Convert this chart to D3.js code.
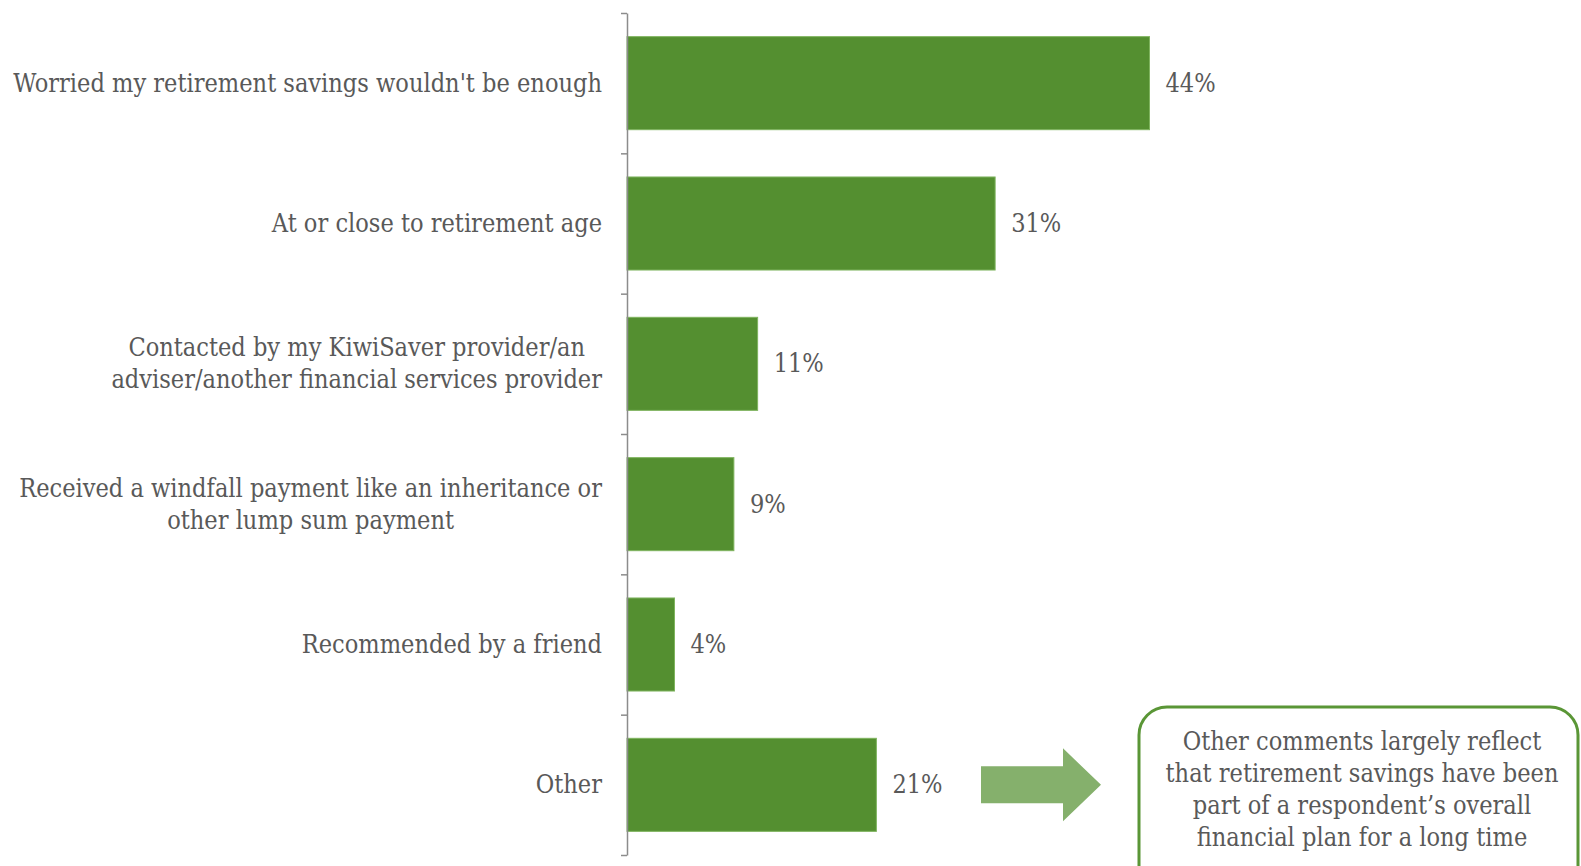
<!DOCTYPE html>
<html>
<head>
<meta charset="utf-8">
<script src="https://cdn.jsdelivr.net/npm/d3@7"></script>
<style>
  html, body { margin: 0; padding: 0; background: #ffffff; }
  svg { display: block; }
  text { font-family: "DejaVu Serif Condensed", "DejaVu Serif", "Liberation Serif", serif; fill: #595959; }
</style>
</head>
<body>
<svg id="chart" width="1581" height="866"></svg>
<script>
const categories = [
  "Worried my retirement savings wouldn't be enough",
  "At or close to retirement age",
  "Contacted by my KiwiSaver provider/an adviser/another financial services provider",
  "Received a windfall payment like an inheritance or other lump sum payment",
  "Recommended by a friend",
  "Other"
];
const categoryLines = [
  ["Worried my retirement savings wouldn't be enough"],
  ["At or close to retirement age"],
  ["Contacted by my KiwiSaver provider/an", "adviser/another financial services provider"],
  ["Received a windfall payment like an inheritance or", "other lump sum payment"],
  ["Recommended by a friend"],
  ["Other"]
];
const values = [44, 31, 11, 9, 4, 21];
const valueLabels = ["44%", "31%", "11%", "9%", "4%", "21%"];
const noteLines = [
  "Other comments largely reflect",
  "that retirement savings have been",
  "part of a respondent\u2019s overall",
  "financial plan for a long time"
];

const svg = d3.select("#chart");
const LINE = 32;

// size the font so the longest label spans the same width as in the reference
const probe = svg.append("text").attr("font-size", 24).text(categoryLines[0][0]);
const probeW = probe.node().getComputedTextLength();
probe.remove();
const FONT = Math.max(18, Math.min(26, 24 * 589 / probeW));

const x = d3.scaleLinear().domain([0, 44]).range([627, 1149.5]);
const y = d3.scaleBand().domain(categories).range([13, 855])
  .paddingInner(0.337).paddingOuter(0.1685);

// bars
svg.append("g").selectAll("rect").data(values).join("rect")
  .attr("x", x(0))
  .attr("y", (d, i) => y(categories[i]))
  .attr("width", d => x(d) - x(0))
  .attr("height", y.bandwidth())
  .attr("fill", "#548f30")
  .attr("stroke", "#7fb45e")
  .attr("stroke-width", 1);

// axis with ticks between categories
const boundary = d3.scaleLinear().domain([0, categories.length]).range(y.range());
const axis = svg.append("g").attr("transform", `translate(${x(0)},0)`)
  .call(d3.axisLeft(boundary).tickValues(d3.range(categories.length + 1))
    .tickSize(6).tickSizeOuter(0).tickFormat(""));
axis.selectAll("path, line").attr("stroke", "#8c8c8c").attr("stroke-width", 1.5);

// category labels (multi-line blocks centred, block right aligned)
const labelRight = 602;
const lg = svg.append("g");
categoryLines.forEach((lines, i) => {
  const cy = y(categories[i]) + y.bandwidth() / 2;
  const g = lg.append("g");
  const texts = lines.map((t, j) => g.append("text")
    .attr("font-size", FONT)
    .attr("dominant-baseline", "central")
    .attr("y", cy + (j - (lines.length - 1) / 2) * LINE)
    .text(t));
  const widths = texts.map(t => t.node().getComputedTextLength());
  const maxW = d3.max(widths);
  const cx = labelRight - maxW / 2;
  texts.forEach(t => t.attr("x", cx).attr("text-anchor", "middle"));
});

// value labels
svg.append("g").selectAll("text").data(values).join("text")
  .attr("x", d => x(d) + 16)
  .attr("y", (d, i) => y(categories[i]) + y.bandwidth() / 2)
  .attr("dominant-baseline", "central")
  .attr("font-size", FONT)
  .text((d, i) => valueLabels[i]);

// arrow pointing to note
const ay = y(categories[5]) + y.bandwidth() / 2;
const arrow = [
  [981, ay - 18.5], [1063, ay - 18.5], [1063, ay - 36.5], [1101, ay],
  [1063, ay + 36.5], [1063, ay + 18.5], [981, ay + 18.5]
];
svg.append("path").attr("d", d3.line()(arrow) + "Z").attr("fill", "#85b06c");

// note box
svg.append("rect")
  .attr("x", 1139).attr("y", 707)
  .attr("width", 439).attr("height", 200)
  .attr("rx", 28).attr("ry", 28)
  .attr("fill", "#ffffff")
  .attr("stroke", "#5a9636").attr("stroke-width", 3);

svg.append("g").selectAll("text").data(noteLines).join("text")
  .attr("x", 1362)
  .attr("y", (d, i) => 741 + i * LINE)
  .attr("text-anchor", "middle")
  .attr("dominant-baseline", "central")
  .attr("font-size", FONT)
  .text(d => d);
</script>
</body>
</html>
